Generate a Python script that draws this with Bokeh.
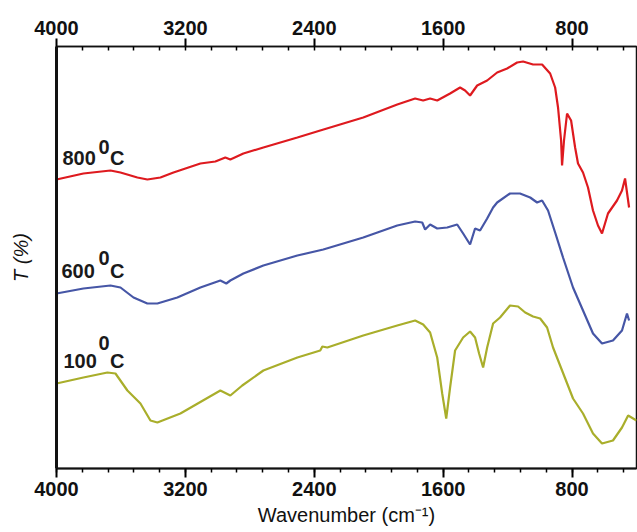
from bokeh.plotting import figure
from bokeh.models import Range1d, LinearAxis, FixedTicker
from bokeh.core.properties import value
from bokeh.embed import file_html
from bokeh.resources import INLINE

# ---------------- data ----------------
major_ticks = [4000, 3200, 2400, 1600, 800]
minor_ticks = [4000, 3840, 3680, 3520, 3360, 3200, 3040, 2880, 2720, 2560, 2400,
               2240, 2080, 1920, 1760, 1600, 1440, 1280, 1120, 960, 800, 640, 480]

red_wn = [4000, 3833, 3665, 3603, 3498, 3436, 3355, 3274, 3107, 3014, 2952, 2921,
          2840, 2716, 2505, 2363, 2096, 1885, 1774, 1724, 1681, 1637, 1557, 1495,
          1464, 1433, 1389, 1327, 1265, 1203, 1141, 1104, 1042, 986, 936, 905, 887,
          868, 862, 850, 831, 806, 781, 763, 732, 701, 670, 639, 614, 577, 521, 490,
          471, 446]
red_t = [289, 295, 298, 296, 291, 289, 291, 296, 305, 307, 311, 309,
         315, 321, 331, 338, 351, 364, 370, 368, 370, 368, 375, 381,
         378, 373, 383, 388, 396, 400, 406, 407, 404, 404, 395, 381, 361,
         328, 303, 328, 355, 348, 321, 305, 296, 281, 258, 243, 235, 255, 268, 278,
         290, 261]

blue_wn = [4000, 3833, 3665, 3603, 3522, 3436, 3374, 3250, 3107, 2983, 2946, 2921,
           2840, 2716, 2505, 2344, 2096, 1885, 1774, 1730, 1712, 1681, 1637, 1575,
           1513, 1476, 1433, 1402, 1371, 1327, 1290, 1265, 1185, 1123, 1060, 1017,
           986, 949, 905, 856, 794, 732, 670, 614, 546, 490, 459, 446]
blue_t = [175, 180, 183, 181, 171, 165, 165, 171, 181, 188, 185, 188,
          195, 203, 213, 219, 231, 243, 247, 246, 239, 244, 240, 241,
          244, 235, 224, 240, 238, 250, 261, 266, 275, 275, 271, 266,
          268, 258, 236, 211, 181, 158, 135, 125, 128, 138, 155, 148]

olive_wn = [4000, 3833, 3684, 3634, 3560, 3479, 3417, 3374, 3231, 2983, 2921, 2847,
            2716, 2505, 2363, 2350, 2319, 2096, 1885, 1774, 1724, 1681, 1637, 1606,
            1581, 1557, 1526, 1476, 1433, 1402, 1377, 1352, 1327, 1290, 1247, 1185,
            1135, 1091, 1042, 998, 955, 918, 862, 794, 732, 670, 614, 546, 490, 452,
            400]
olive_t = [85, 91, 96, 95, 78, 65, 48, 46, 55, 78, 73, 83,
           98, 111, 118, 122, 121, 133, 143, 148, 144, 136, 111, 75,
           50, 81, 118, 131, 137, 131, 115, 101, 121, 145, 151, 163,
           162, 156, 152, 150, 141, 121, 98, 70, 55, 35, 25, 28, 41, 53,
           48]

series_names = ["800", "600", "100"]

# ---------------- styling ----------------
FONT = "Liberation Sans"
RED = "#de1a1f"
BLUE = "#4656a6"
OLIVE = "#a9ae2b"
INK = "#111111"

p = figure(width=637, height=532, output_backend="svg", toolbar_location=None,
           x_range=Range1d(4000, 400), y_range=Range1d(0, 422),
           min_border_left=56, min_border_right=1, min_border_top=46,
           min_border_bottom=64, x_axis_location=None, y_axis_location=None)
p.xgrid.visible = False
p.ygrid.visible = False
p.outline_line_color = INK
p.outline_line_width = 1.5
p.background_fill_color = "white"
p.border_fill_color = "white"

ticker = FixedTicker(ticks=major_ticks, minor_ticks=minor_ticks)

bottom = LinearAxis(ticker=ticker, axis_label="Wavenumber (cm\u207b\u00b9)")
bottom.axis_line_width = 2
bottom.axis_line_color = INK
bottom.major_tick_out = 9
bottom.major_tick_in = 0
bottom.minor_tick_out = 4
bottom.minor_tick_in = 0
bottom.major_tick_line_width = 2
bottom.minor_tick_line_width = 1.5
bottom.major_label_text_font = FONT
bottom.major_label_text_font_style = "bold"
bottom.major_label_text_font_size = "20px"
bottom.major_label_text_color = INK
bottom.major_label_standoff = 4
bottom.axis_label_text_font = FONT
bottom.axis_label_text_font_style = "normal"
bottom.axis_label_text_font_size = "20px"
bottom.axis_label_text_color = INK
bottom.axis_label_standoff = 5
p.add_layout(bottom, "below")

top = LinearAxis(ticker=ticker)
top.axis_line_width = 1.5
top.axis_line_color = INK
top.major_tick_out = 8
top.major_tick_in = 0
top.minor_tick_out = 0
top.minor_tick_in = 4
top.major_tick_line_width = 2
top.minor_tick_line_width = 1.5
top.major_label_text_font = FONT
top.major_label_text_font_style = "bold"
top.major_label_text_font_size = "20px"
top.major_label_text_color = INK
top.major_label_standoff = 4
p.add_layout(top, "above")

left = LinearAxis(ticker=FixedTicker(ticks=[]), axis_label="T (%)")
left.axis_line_width = 3
left.axis_line_color = INK
left.major_tick_out = 0
left.minor_tick_out = 0
left.major_label_text_font_size = "0px"
left.axis_label_text_font = FONT
left.axis_label_text_font_style = "italic"
left.axis_label_text_font_size = "20px"
left.axis_label_text_color = INK
left.axis_label_standoff = 25
p.add_layout(left, "left")

# spectra
p.line(red_wn, red_t, line_color=RED, line_width=2.2)
p.line(blue_wn, blue_t, line_color=BLUE, line_width=2.2)
p.line(olive_wn, olive_t, line_color=OLIVE, line_width=2.2)

# curve labels: "800", superscript "0", "C"
lab_x = [3963, 3969, 3957]
lab_y = [311, 198, 108]
sup_x = [3740, 3740, 3740]
sup_y = [322, 211, 126]
c_x = [3668, 3668, 3668]
common = dict(text_font=value(FONT), text_font_style="bold", text_font_size="20px",
              text_color="#1a1a1a", text_baseline="middle", text_align="left")
p.text(x=lab_x, y=lab_y, text=series_names, **common)
p.text(x=sup_x, y=sup_y, text=["0", "0", "0"], **common)
p.text(x=c_x, y=lab_y, text=["C", "C", "C"], **common)

open("out.html", "w").write(file_html(p, INLINE))
